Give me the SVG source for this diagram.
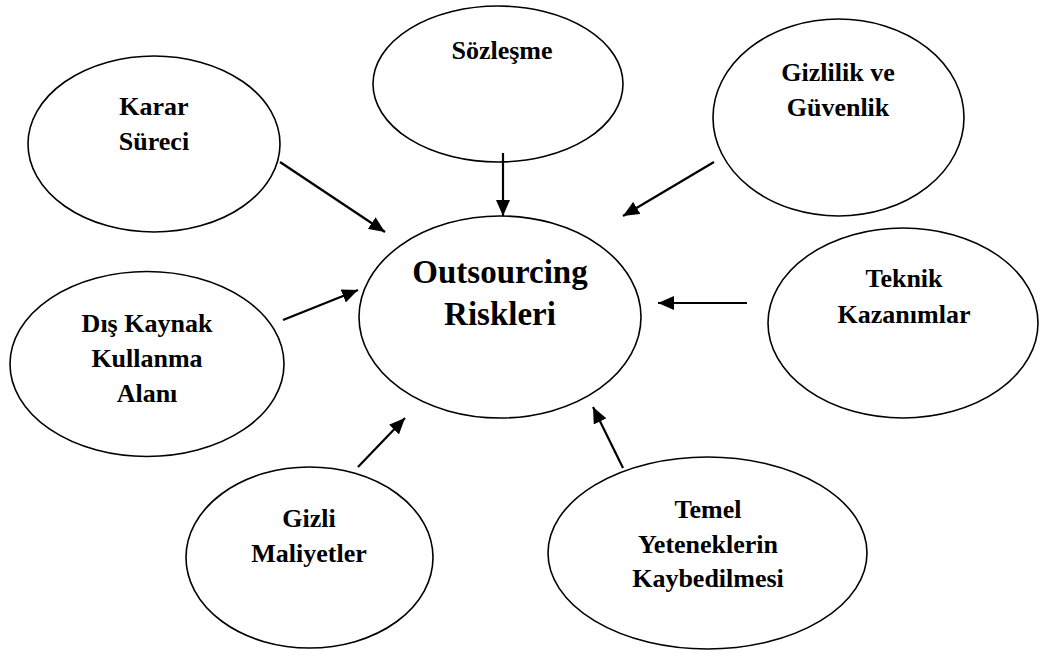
<svg xmlns="http://www.w3.org/2000/svg" width="1046" height="655" viewBox="0 0 1046 655">
<style>
.n{fill:#fff;stroke:#000;stroke-width:1.6}
.t{font-family:"Liberation Serif","Times New Roman",serif;font-weight:bold;font-size:26px;fill:#000;text-anchor:middle}
.big{font-size:33px}
.c{stroke:#000;stroke-width:2.2;fill:none;marker-end:url(#ah)}
</style>
<defs>
<marker id="ah" markerUnits="userSpaceOnUse" markerWidth="18" markerHeight="14" refX="16" refY="7" orient="auto">
<path d="M0,0 L16,7 L0,14 z" fill="#000"/>
</marker>
</defs>
<rect width="1046" height="655" fill="#fff"/>
<g id="center"><ellipse class="n" cx="500" cy="317" rx="141" ry="101"/>
<text class="t big" x="500" y="283">Outsourcing</text><text class="t big" x="500" y="325">Riskleri</text></g>
<g id="karar"><ellipse class="n" cx="154" cy="144" rx="126" ry="88"/>
<text class="t" x="154" y="115">Karar</text><text class="t" x="154" y="150">Süreci</text></g>
<g id="sozlesme"><ellipse class="n" cx="498" cy="84" rx="125" ry="78"/>
<text class="t" x="502" y="59">Sözleşme</text></g>
<g id="gizlilik"><ellipse class="n" cx="838.5" cy="117.5" rx="125.5" ry="98.5"/>
<text class="t" x="838" y="81">Gizlilik ve</text><text class="t" x="838" y="116">Güvenlik</text></g>
<g id="dis"><ellipse class="n" cx="147" cy="364" rx="137" ry="92.5"/>
<text class="t" x="147" y="332">Dış Kaynak</text><text class="t" x="147" y="367">Kullanma</text><text class="t" x="147" y="402">Alanı</text></g>
<g id="teknik"><ellipse class="n" cx="903" cy="323" rx="135" ry="95"/>
<text class="t" x="904" y="287">Teknik</text><text class="t" x="904" y="323">Kazanımlar</text></g>
<g id="gizli"><ellipse class="n" cx="309.5" cy="557.5" rx="123.5" ry="90.5"/>
<text class="t" x="309" y="527">Gizli</text><text class="t" x="309" y="562">Maliyetler</text></g>
<g id="temel"><ellipse class="n" cx="707.5" cy="553" rx="159.5" ry="96"/>
<text class="t" x="708" y="518">Temel</text><text class="t" x="708" y="553">Yeteneklerin</text><text class="t" x="708" y="587">Kaybedilmesi</text></g>
<g id="connectors">
<line class="c" x1="280" y1="162" x2="385" y2="232"/>
<line class="c" x1="503" y1="153" x2="503" y2="216"/>
<line class="c" x1="714" y1="162" x2="623" y2="216"/>
<line class="c" x1="283" y1="320" x2="358" y2="290"/>
<line class="c" x1="747" y1="303" x2="658" y2="303"/>
<line class="c" x1="358" y1="467" x2="405" y2="418"/>
<line class="c" x1="623" y1="468" x2="593" y2="407"/>
</g>
</svg>
